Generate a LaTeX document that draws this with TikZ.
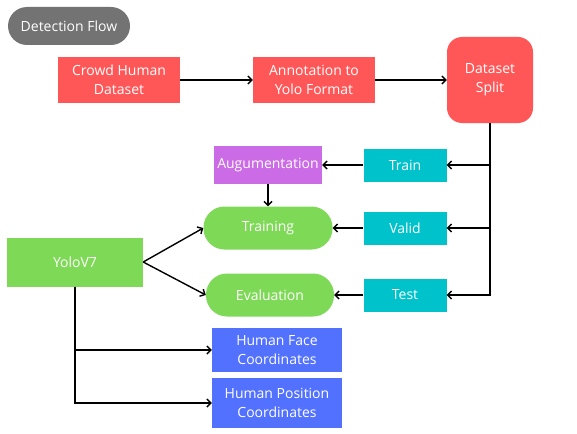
\documentclass[tikz,border=0pt]{standalone}
\usepackage{fontspec}
\setmainfont{Open Sans}
\usetikzlibrary{positioning, arrows.meta}

\definecolor{flowred}{HTML}{FF5757}
\definecolor{flowpurple}{HTML}{CB6CE6}
\definecolor{flowteal}{HTML}{00C2CB}
\definecolor{flowgreen}{HTML}{7ED957}
\definecolor{flowblue}{HTML}{5271FF}
\definecolor{flowgray}{HTML}{737373}

\tikzset{
  box/.style = {inner sep=0pt, align=center, text=white, font=\fontsize{14}{19}\selectfont},
  link/.style = {-{Straight Barb[length=4pt, width=8pt]}, line width=1.4pt}
}

\begin{document}
\begin{tikzpicture}[x=1pt, y=-1pt, on grid]
  \useasboundingbox (0,0) rectangle (577,433);
  \node[box, fill=flowgray, rounded corners=19pt, minimum width=122pt, minimum height=38pt] (title) at (69,26) {Detection Flow};
  \node[box, fill=flowred, minimum width=122pt, minimum height=45pt] (crowd) at (119,80) {Crowd Human\\Dataset};
  \node[box, fill=flowred, minimum width=122pt, minimum height=45pt] (annot) [right=195pt of crowd] {Annotation to\\Yolo Format};
  \node[box, fill=flowred, rounded corners=15pt, minimum width=86pt, minimum height=86pt] (split) [right=176pt of annot] {Dataset\\Split};
  \node[box, fill=flowteal, minimum width=83pt, minimum height=33pt] (train) at (405,165) {Train};
  \node[box, fill=flowteal, minimum width=83pt, minimum height=33pt] (valid) [below=63pt of train] {Valid};
  \node[box, fill=flowteal, minimum width=83pt, minimum height=33pt] (test) [below=67pt of valid] {Test};
  \node[box, fill=flowpurple, minimum width=108pt, minimum height=38pt] (aug) [left=137pt of train] {Augumentation};
  \node[box, fill=flowgreen, rounded corners=21pt, minimum width=129pt, minimum height=43pt] (training) [below=63pt of aug] {Training};
  \node[box, fill=flowgreen, rounded corners=21pt, minimum width=128pt, minimum height=43pt] (eval) at (270,295) {Evaluation};
  \node[box, fill=flowgreen, minimum width=136pt, minimum height=49pt] (yolo) at (75,262) {YoloV7};
  \node[box, fill=flowblue, minimum width=130pt, minimum height=44pt] (face) at (277,350) {Human Face\\Coordinates};
  \node[box, fill=flowblue, minimum width=130pt, minimum height=50pt] (pos) [below=53pt of face] {Human Position\\Coordinates};

  \draw[link] (crowd) -- (annot);
  \draw[link] (annot) -- (split);
  \draw[link] (split.south) |- (train);
  \draw[link] (split.south) |- (valid);
  \draw[link] (split.south) |- (test);
  \draw[link] (train) -- (aug);
  \draw[link] (aug) -- (training);
  \draw[link] (valid) -- (training);
  \draw[link] (test) -- (eval);
  \draw[link] (yolo.east) -- (training.west);
  \draw[link] (yolo.east) -- (eval.west);
  \draw[link] (yolo.south) |- (face);
  \draw[link] (yolo.south) |- (pos);
\end{tikzpicture}
\end{document}
